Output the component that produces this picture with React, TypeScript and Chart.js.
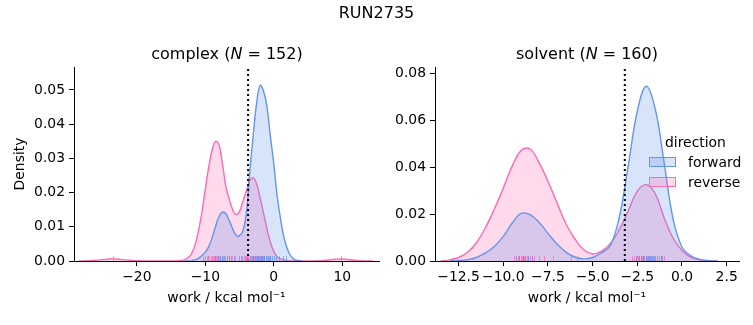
import React, { useEffect, useRef } from "react";
import { Chart, registerables } from "chart.js";

Chart.register(...registerables);

// ---------------- DATA ----------------
const suptitle = "RUN2735";
const complexTitleN = 152;
const solventTitleN = 160;
const legendTitle = "direction";
const legendLabels = ["forward", "reverse"];

// complex: KDE of forward work (density values)
const complexForwardX = [-13, -12, -11, -10.5, -10, -9.5, -9, -8.5, -8, -7.5, -7, -6.5, -6, -5.5, -5, -4.5, -4, -3.5, -3, -2.5, -2, -1.5, -1, -0.5, 0, 0.5, 1, 1.5, 2, 2.5, 3, 4];
const complexForwardY = [0, 0.0001, 0.0008, 0.0016, 0.0026, 0.0042, 0.0068, 0.0101, 0.013, 0.0143, 0.0138, 0.0118, 0.0094, 0.0075, 0.0074, 0.0088, 0.014, 0.0262, 0.0368, 0.0462, 0.0513, 0.0497, 0.0452, 0.0365, 0.0285, 0.019, 0.0122, 0.0068, 0.0034, 0.0014, 0.0005, 0];

// complex: KDE of reverse work
const complexReverseX = [-28.5, -27, -26, -25, -24, -23.5, -23, -22, -21, -20, -19, -17, -15, -14, -13, -12.5, -12, -11.5, -11, -10.5, -10, -9.5, -9, -8.5, -8, -7.5, -7, -6.5, -6, -5.5, -5, -4.5, -4, -3.5, -3, -2.5, -2, -1.5, -1, -0.5, 0, 0.5, 1, 1.5, 2, 3, 5, 7, 8, 9, 9.8, 10.5, 11.5, 12.5, 14.5];
const complexReverseY = [0, 0.0001, 0.0002, 0.0004, 0.0006, 0.0006, 0.0006, 0.0004, 0.0002, 0.0001, 0.00003, 0, 0, 0.00005, 0.0004, 0.001, 0.0022, 0.0047, 0.0088, 0.0142, 0.021, 0.0275, 0.0325, 0.035, 0.034, 0.0285, 0.0218, 0.018, 0.015, 0.0135, 0.0145, 0.0175, 0.0205, 0.0235, 0.0243, 0.0225, 0.0185, 0.014, 0.0095, 0.0055, 0.0028, 0.0012, 0.0006, 0.0003, 0.0001, 0, 0, 0.0001, 0.0003, 0.0005, 0.0006, 0.0005, 0.0003, 0.0001, 0];

// solvent: KDE of forward work
const solventForwardX = [-13, -12.5, -12, -11.5, -11, -10.5, -10, -9.5, -9, -8.5, -8, -7.5, -7, -6.5, -6, -5.5, -5, -4.5, -4, -3.5, -3, -2.5, -2, -1.5, -1, -0.5, 0, 0.5, 1, 1.5, 2];
const solventForwardY = [0, 0.0002, 0.0006, 0.0015, 0.0035, 0.0062, 0.0105, 0.0162, 0.0203, 0.0198, 0.0165, 0.0118, 0.0073, 0.0038, 0.0017, 0.0009, 0.0015, 0.0035, 0.0068, 0.019, 0.041, 0.064, 0.0746, 0.065, 0.042, 0.018, 0.006, 0.0022, 0.0007, 0.0001, 0];

// solvent: KDE of reverse work
const solventReverseX = [-13.5, -13, -12.5, -12, -11.5, -11, -10.5, -10, -9.5, -9, -8.5, -8, -7.5, -7, -6.5, -6, -5.5, -5, -4.5, -4, -3.5, -3, -2.5, -2, -1.5, -1, -0.5, 0, 0.5, 1, 1.5, 2];
const solventReverseY = [0, 0.0005, 0.0015, 0.0037, 0.0078, 0.0142, 0.0222, 0.0312, 0.0405, 0.0472, 0.0478, 0.042, 0.034, 0.025, 0.016, 0.0095, 0.0048, 0.003, 0.0042, 0.0075, 0.0135, 0.0215, 0.0298, 0.0326, 0.0288, 0.0185, 0.0098, 0.0045, 0.0015, 0.0005, 0.0002, 0];

// rug samples (work values)
const complexForwardRug = [-8.6, -8.1, -7.8, -7.5, -7.2, -6.9, -6.6, -6.2, -5.8, -5.1, -4.6, -4.2, -3.9, -3.5, -3.2, -3.0, -2.8, -2.6, -2.5, -2.3, -2.2, -2.0, -1.9, -1.8, -1.7, -1.6, -1.5, -1.4, -1.2, -1.1, -0.9, -0.7, -0.5, -0.3, 0.0, 0.3, 0.7, 1.3, 1.8];
const complexReverseRug = [-23.5, -10.3, -10.0, -9.8, -9.6, -9.4, -9.2, -9.0, -8.9, -8.7, -8.6, -8.4, -8.3, -8.1, -8.0, -7.8, -7.6, -7.4, -7.1, -6.8, -6.5, -6.1, -5.7, -4.8, -4.3, -4.0, -3.7, -3.5, -3.3, -3.1, -2.9, -2.7, -2.5, -2.3, -2.0, -1.7, -1.4, -1.0, -0.6, 9.8];
const solventForwardRug = [-9.3, -9.1, -8.9, -8.8, -8.6, -8.4, -2.6, -2.4, -2.3, -2.2, -2.1, -2.0, -1.95, -1.9, -1.85, -1.8, -1.75, -1.7, -1.6, -1.55, -1.5, -1.4, -1.3, -1.2, -1.1];
const solventReverseRug = [-9.4, -9.3, -9.2, -9.1, -9.0, -8.95, -8.9, -8.85, -8.8, -8.7, -8.6, -8.5, -8.4, -8.3, -8.0, -7.7, -7.2, -6.2, -5.85, -2.8, -2.7, -2.6, -2.5, -2.45, -2.4, -2.3, -2.25, -2.2, -2.1, -2.0, -1.9, -1.8, -1.2, -1.0];

// vertical reference (free energy estimate)
const complexDG = -3.75;
const solventDG = -3.2;

// axes
const complexXRange = [-29.18, 15.37];
const complexYRange = [0, 0.0567];
const solventXRange = [-13.82, 3.19];
const solventYRange = [0, 0.0828];
const complexXTicks = [-20, -10, 0, 10];
const complexYTicks = [0, 0.01, 0.02, 0.03, 0.04, 0.05];
const solventXTicks = [-12.5, -10, -7.5, -5, -2.5, 0, 2.5];
const solventYTicks = [0, 0.02, 0.04, 0.06, 0.08];
const xLabel = "work / kcal mol\u207B\u00B9";
const yLabel = "Density";

// ---------------- STYLE ----------------
const FONT = "'DejaVu Sans', sans-serif";
const FS = 13.9;
const BLUE = "#6495ED";
const PINK = "#FF69B4";
const BLUE_FILL = "rgba(100,149,237,0.25)";
const PINK_FILL = "rgba(255,105,180,0.25)";
const BLUE_RUG = "rgba(100,149,237,0.75)";
const PINK_RUG = "rgba(255,105,180,0.75)";

Chart.defaults.font.family = FONT;
Chart.defaults.color = "#000";

const minus = (s: string) => s.replace("-", "\u2212");

function pts(xs: number[], ys: number[]) {
  return xs.map((x, i) => ({ x, y: ys[i] }));
}

function rugPlugin(rugs: { values: number[]; color: string }[]) {
  return {
    id: "rug",
    afterDatasetsDraw(chart: any) {
      const { ctx, chartArea, scales } = chart;
      const xs = scales.x;
      ctx.save();
      ctx.beginPath();
      ctx.rect(chartArea.left, chartArea.top, chartArea.right - chartArea.left, chartArea.bottom - chartArea.top);
      ctx.clip();
      ctx.lineWidth = 1;
      const h = (chartArea.bottom - chartArea.top) * 0.025;
      for (const r of rugs) {
        ctx.strokeStyle = r.color;
        for (const v of r.values) {
          const px = Math.round(xs.getPixelForValue(v)) + 0.5;
          ctx.beginPath();
          ctx.moveTo(px, chartArea.bottom);
          ctx.lineTo(px, chartArea.bottom - h);
          ctx.stroke();
        }
      }
      ctx.restore();
    },
  };
}

interface PanelOpts {
  fx: number[]; fy: number[]; rx: number[]; ry: number[];
  fr: number[]; rr: number[]; dg: number;
  xr: number[]; yr: number[]; xt: number[]; yt: number[];
  xDec: number; yAxisWidth: number; showYTitle: boolean;
  padLeft: number; padRight: number;
}

function makeConfig(o: PanelOpts): any {
  const lineDs = (data: any, color: string, fill: string) => ({
    type: "line",
    data,
    borderColor: color,
    backgroundColor: fill,
    borderWidth: 1.4,
    fill: "origin",
    pointRadius: 0,
    tension: 0.4,
  });
  return {
    type: "line",
    data: {
      datasets: [
        {
          data: [{ x: o.dg, y: o.yr[0] }, { x: o.dg, y: o.yr[1] }],
          borderColor: "#000",
          borderWidth: 2,
          borderDash: [2, 3],
          pointRadius: 0,
          fill: false,
        },
        lineDs(pts(o.fx, o.fy), BLUE, BLUE_FILL),
        lineDs(pts(o.rx, o.ry), PINK, PINK_FILL),
      ],
    },
    options: {
      responsive: false,
      animation: false,
      events: [],
      layout: { padding: { left: o.padLeft, right: o.padRight, top: 67, bottom: 14 } },
      plugins: { legend: { display: false }, tooltip: { enabled: false }, title: { display: false } },
      scales: {
        x: {
          type: "linear",
          min: o.xr[0],
          max: o.xr[1],
          afterBuildTicks: (s: any) => { s.ticks = o.xt.map((v) => ({ value: v })); },
          afterFit: (s: any) => { s.height = 50; },
          ticks: {
            font: { size: FS },
            color: "#000",
            padding: 3,
            maxRotation: 0,
            autoSkip: false,
            callback: (v: number) => minus(v.toFixed(o.xDec)),
          },
          grid: { display: true, drawOnChartArea: false, drawTicks: true, tickLength: 5, color: "#000", tickWidth: 1 },
          border: { display: true, color: "#000", width: 1 },
          title: { display: true, text: xLabel, font: { size: FS }, color: "#000", padding: { top: 4, bottom: 4 } },
        },
        y: {
          type: "linear",
          min: o.yr[0],
          max: o.yr[1],
          afterBuildTicks: (s: any) => { s.ticks = o.yt.map((v) => ({ value: v })); },
          afterFit: (s: any) => { s.width = o.yAxisWidth; },
          ticks: {
            font: { size: FS },
            color: "#000",
            padding: 4,
            autoSkip: false,
            callback: (v: number) => v.toFixed(2),
          },
          grid: { display: true, drawOnChartArea: false, drawTicks: true, tickLength: 5, color: "#000", tickWidth: 1 },
          border: { display: true, color: "#000", width: 1 },
          title: { display: o.showYTitle, text: yLabel, font: { size: FS }, color: "#000", padding: { top: 4, bottom: 4 } },
        },
      },
    },
    plugins: [rugPlugin([{ values: o.rr, color: PINK_RUG }, { values: o.fr, color: BLUE_RUG }])],
  };
}

export default function App() {
  const leftRef = useRef<HTMLCanvasElement>(null);
  const rightRef = useRef<HTMLCanvasElement>(null);

  useEffect(() => {
    const c1 = new Chart(leftRef.current as HTMLCanvasElement, makeConfig({
      fx: complexForwardX, fy: complexForwardY, rx: complexReverseX, ry: complexReverseY,
      fr: complexForwardRug, rr: complexReverseRug, dg: complexDG,
      xr: complexXRange, yr: complexYRange, xt: complexXTicks, yt: complexYTicks,
      xDec: 0, yAxisWidth: 66, showYTitle: true, padLeft: 8, padRight: 6,
    }));
    const c2 = new Chart(rightRef.current as HTMLCanvasElement, makeConfig({
      fx: solventForwardX, fy: solventForwardY, rx: solventReverseX, ry: solventReverseY,
      fr: solventForwardRug, rr: solventReverseRug, dg: solventDG,
      xr: solventXRange, yr: solventYRange, xt: solventXTicks, yt: solventYTicks,
      xDec: 1, yAxisWidth: 50, showYTitle: false, padLeft: 0, padRight: 14,
    }));
    return () => { c1.destroy(); c2.destroy(); };
  }, []);

  const text = (s: any, left: number, top: number, size: number, extra: any = {}) => (
    <div style={{ position: "absolute", left, top, fontSize: size, lineHeight: Math.round(size + 2) + "px", whiteSpace: "nowrap", ...extra }}>{s}</div>
  );

  return (
    <div style={{ position: "absolute", left: 0, top: 0, width: 753, height: 325, background: "#fff", fontFamily: FONT, color: "#000", overflow: "hidden" }}>
      <canvas ref={leftRef} width={385} height={325} style={{ position: "absolute", left: 0, top: 0, display: "block" }} />
      <canvas ref={rightRef} width={368} height={325} style={{ position: "absolute", left: 385, top: 0, display: "block" }} />
      {text(suptitle, 0, 4, 16, { width: 753, textAlign: "center" })}
      {text(<span>complex (<i>N</i> = {complexTitleN})</span>, 75, 45, 16, { width: 304, textAlign: "center" })}
      {text(<span>solvent (<i>N</i> = {solventTitleN})</span>, 435, 45, 16, { width: 304, textAlign: "center" })}
      {text(legendTitle, 665, 134, FS)}
      <div style={{ position: "absolute", left: 649, top: 157, width: 27, height: 10, background: BLUE_FILL, border: `1px solid ${BLUE}`, boxSizing: "border-box" }} />
      <div style={{ position: "absolute", left: 649, top: 177, width: 27, height: 10, background: PINK_FILL, border: `1px solid ${PINK}`, boxSizing: "border-box" }} />
      {text(legendLabels[0], 688, 154, FS)}
      {text(legendLabels[1], 688, 174, FS)}
    </div>
  );
}
